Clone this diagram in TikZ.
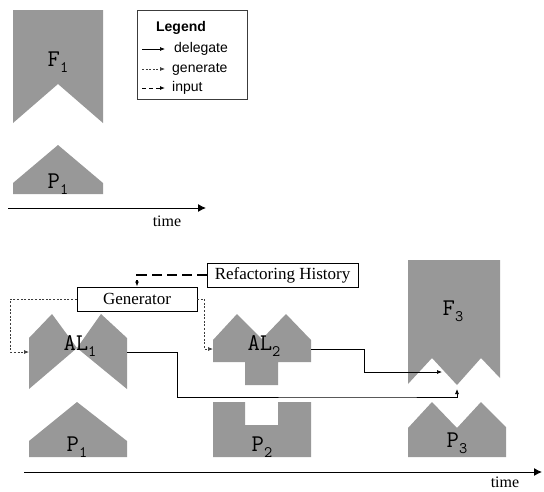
\documentclass[tikz,border=0pt]{standalone}
\usepackage{fontspec}
\setmainfont{Liberation Serif}
\newfontfamily\legendfont{Liberation Sans}
\usetikzlibrary{arrows.meta}

\definecolor{shapegray}{RGB}{152,152,152}
\definecolor{linegray}{RGB}{60,60,60}

% artefact label: typewriter letter(s) with a lowered index
\newcommand{\artlabel}[2]{{\ttfamily\fontsize{24}{24}\selectfont #1\raisebox{-6pt}{\fontsize{16}{16}\selectfont #2}}}

\tikzset{
  artefact/.style={fill=shapegray, draw=none},
  tag/.style={inner sep=0pt, anchor=center},
  textbox/.style={draw=black, line width=0.9pt, inner sep=0pt, font=\fontsize{17}{17}\selectfont},
  delegate/.style={draw=black, line width=0.7pt, -{Latex[length=5pt,width=4pt]}},
  generate/.style={draw=linegray, line width=0.7pt, dash pattern=on 2pt off 1.6pt, -{Latex[length=5pt,width=4pt]}},
  inputline/.style={draw=black, line width=1.1pt, dash pattern=on 10pt off 5pt, -{Latex[length=5pt,width=4pt]}},
  timeaxis/.style={draw=black, line width=1pt, -{Latex[length=8pt,width=8pt]}},
  timelabel/.style={inner sep=0pt, font=\fontsize{16}{16}\selectfont},
  legendtext/.style={inner sep=0pt, anchor=west, font=\legendfont\fontsize{14}{14}\selectfont},
}

\begin{document}
\begin{tikzpicture}[x=1pt,y=-1pt]
\useasboundingbox (0,0) rectangle (544,491);

% ---------- first release: framework F1 and product P1 ----------
\path[artefact] (13,10) -- (103,10) -- (103,123) -- (58,84) -- (13,123) -- cycle;
\node[tag] (f1) at (58,62) {\artlabel{F}{1}};
\path[artefact] (13,194) -- (13,183) -- (58,145) -- (103,183) -- (103,194) -- cycle;
\node[tag] (p1top) at (58,184) {\artlabel{P}{1}};

\coordinate (ta0) at (8,208);
\coordinate (ta1) at (206,208);
\draw[timeaxis] (ta0) -- (ta1);
\node[timelabel] (time1) at (167,221) {time};

% ---------- legend ----------
\node[draw=linegray, line width=0.9pt, minimum width=110pt, minimum height=89pt, inner sep=0pt] (legend) at (192,54.5) {};
\node[inner sep=0pt, font=\legendfont\bfseries\fontsize{14}{14}\selectfont] (legtitle) at (181,28) {Legend};
\coordinate (ld0) at (142,49);  \coordinate (ld1) at (165,49);
\coordinate (lg0) at (142,69);  \coordinate (lg1) at (165,69);
\coordinate (li0) at (142,88);  \coordinate (li1) at (165,88);
\draw[delegate] (ld0) -- (ld1);
\draw[generate] (lg0) -- (lg1);
\draw[inputline, dash pattern=on 4pt off 3pt, line width=0.9pt] (li0) -- (li1);
\node[legendtext] (ldt) at (174,49) {delegate};
\node[legendtext] (lgt) at (172,69) {generate};
\node[legendtext] (lit) at (172,88) {input};

% ---------- evolution with application-level frameworks ----------
\node[textbox, minimum width=151pt, minimum height=24pt] (history) at (282.5,275) {Refactoring History};
\node[textbox, minimum width=120pt, minimum height=24pt] (gen) at (137,299) {Generator};

% AL1 (bow tie)
\path[artefact] (29,338) -- (52,314) -- (77,348) -- (29,389) -- cycle;
\path[artefact] (77,348) -- (101,314) -- (127,338) -- (127,389) -- cycle;
\node[tag] (al1) at (80,346) {\artlabel{AL}{1}};

% AL2
\path[artefact] (213,340) -- (237,314) -- (262,339) -- (286,314) -- (311,340) -- (311,362)
  -- (278,362) -- (278,385) -- (245,385) -- (245,362) -- (213,362) -- cycle;
\node[tag] (al2) at (264,346) {\artlabel{AL}{2}};

% F3
\path[artefact] (408,260) -- (500,260) -- (500,378) -- (481,358) -- (457,385) -- (432,358) -- (408,384) -- cycle;
\node[tag] (f3) at (453,311) {\artlabel{F}{3}};

% products
\path[artefact] (29,457) -- (29,441) -- (77,402) -- (127,441) -- (127,457) -- cycle;
\node[tag] (p1) at (77,447) {\artlabel{P}{1}};
\path[artefact] (213,402) -- (245,402) -- (245,425) -- (278,425) -- (278,402) -- (311,402) -- (311,457) -- (213,457) -- cycle;
\node[tag] (p2) at (262,447) {\artlabel{P}{2}};
\path[artefact] (408,457) -- (408,428) -- (432,402) -- (457,428) -- (481,402) -- (506,427) -- (506,457) -- cycle;
\node[tag] (p3) at (457,443) {\artlabel{P}{3}};

% connector end points on the artefacts
\coordinate (al1w) at (29,352);
\coordinate (al1e) at (127,352);
\coordinate (al2w) at (213,349);
\coordinate (al2e) at (311,349);
\coordinate (f3in) at (442,372);
\coordinate (f3tip) at (457,389);

% input: history -> generator
\draw[inputline] (history.west) -| (gen.north);

% generate: generator -> AL1, AL2
\draw[generate] (gen.west) -- ++(-66,0) |- (al1w);
\draw[generate] (gen.east) -- ++(7,0) |- (al2w);

% delegate: AL1, AL2 -> F3
\draw[delegate] (al1e) -- ++(50,0) |- (377,397) -| (f3tip);
\draw[delegate] (al2e) -- ++(53,0) |- (f3in);

% time axis
\coordinate (tb0) at (24,472);
\coordinate (tb1) at (542,472);
\draw[timeaxis] (tb0) -- (tb1);
\node[timelabel] (time2) at (505,482) {time};
\end{tikzpicture}
\end{document}
